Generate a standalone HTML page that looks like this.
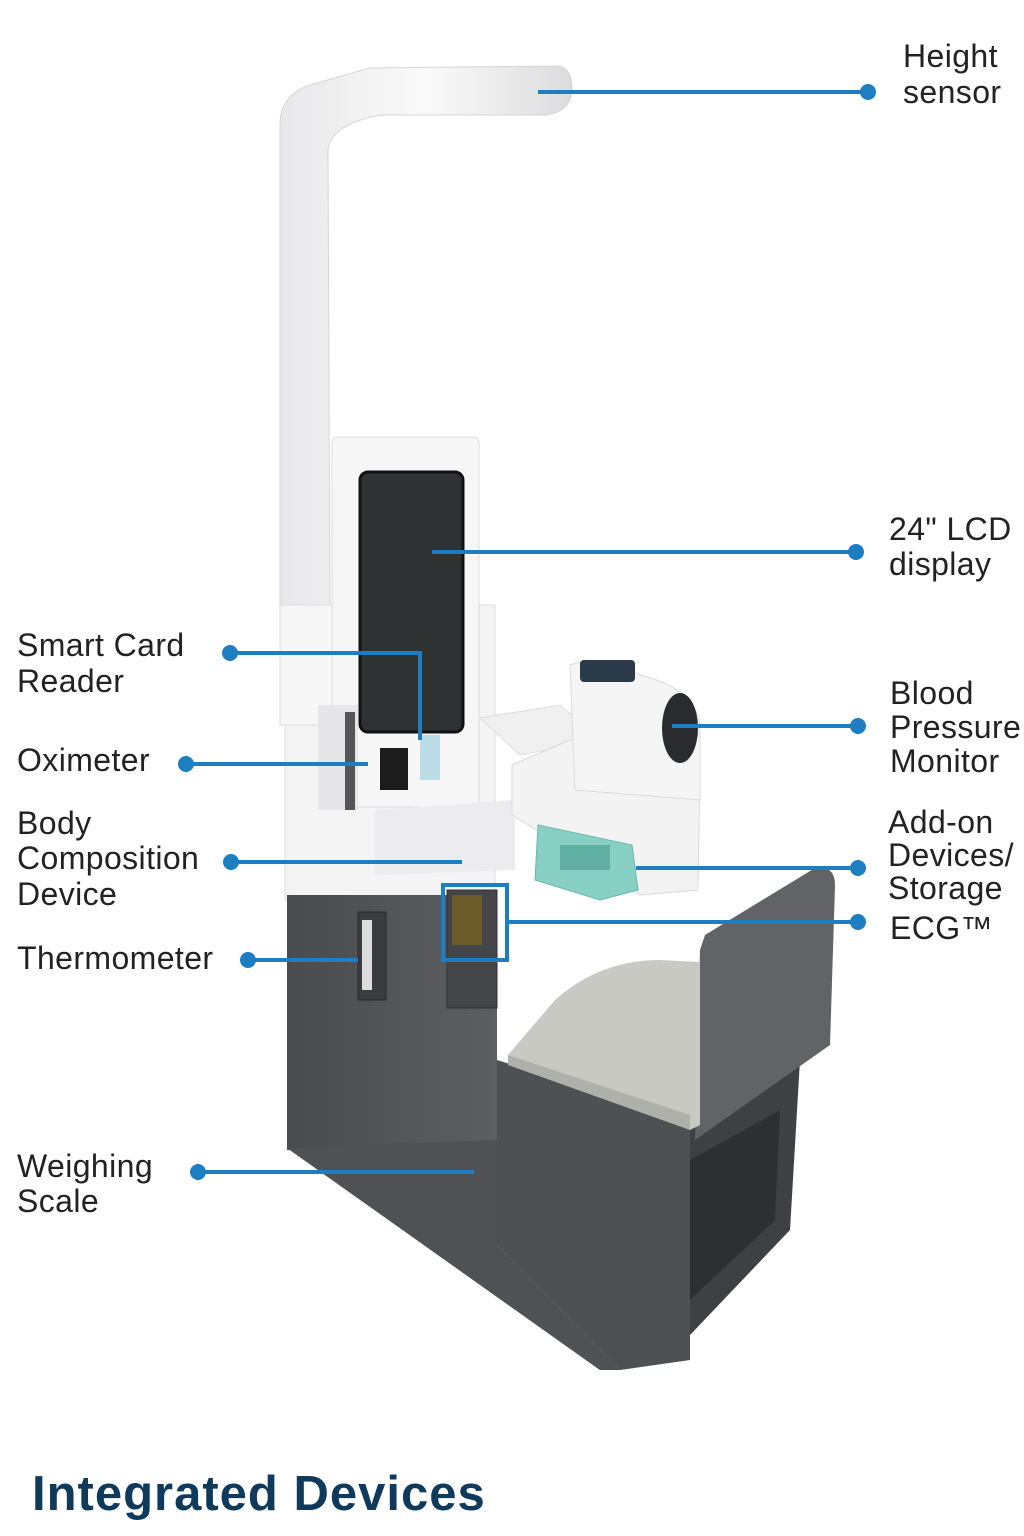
<!DOCTYPE html>
<html><head><meta charset="utf-8"><style>
html,body{margin:0;padding:0;background:#fff;}
svg{display:block;}
text{font-family:"Liberation Sans",sans-serif;fill:#222;}
</style></head><body>
<svg width="1024" height="1536" viewBox="0 0 1024 1536" xmlns="http://www.w3.org/2000/svg">
<defs>
<linearGradient id="pole" x1="0" x2="1"><stop offset="0" stop-color="#e8e8ea"/><stop offset="0.5" stop-color="#fafafa"/><stop offset="1" stop-color="#dcdcde"/></linearGradient>
<linearGradient id="dark" x1="0" x2="1"><stop offset="0" stop-color="#4a4b4f"/><stop offset="1" stop-color="#5d5e62"/></linearGradient>
</defs>
<path d="M280 620 L280 125 Q280 95 310 85 L370 68 L560 66 Q572 70 572 88 Q572 112 545 115 L380 115 Q330 125 328 150 L330 620 Z" fill="url(#pole)" stroke="#d6d6d8"/>
<rect x="285" y="605" width="210" height="295" fill="#f4f4f5" stroke="#dedee0"/>
<rect x="280" y="605" width="95" height="120" fill="#f7f7f8" stroke="#dcdcde"/>
<rect x="332" y="437" width="147" height="370" rx="6" fill="#f6f6f7" stroke="#dcdcde"/>
<rect x="360" y="472" width="103" height="260" rx="8" fill="#2e3233" stroke="#111" stroke-width="3"/>
<rect x="318" y="705" width="40" height="105" fill="#e6e6e8"/>
<rect x="345" y="712" width="10" height="98" fill="#555"/>
<rect x="380" y="748" width="28" height="42" fill="#1c1c1c"/>
<rect x="420" y="735" width="20" height="45" fill="#b9dce6"/>
<path d="M375 810 L515 800 L515 870 L375 875 Z" fill="#ececee"/>
<!-- lower kiosk and platform -->
<rect x="287" y="895" width="210" height="255" fill="url(#dark)"/>
<path d="M287 1148 L497 1140 L497 1245 L620 1370 L600 1370 Z" fill="#4a4b4f"/>
<path d="M287 1148 L600 1370 L620 1370 L497 1245 L497 1140 Z" fill="#505155"/>
<!-- seat base -->
<path d="M497 1060 L690 1120 L690 1360 L620 1370 L497 1245 Z" fill="#4f5054"/>
<path d="M690 1120 L800 1060 L790 1230 L690 1335 Z" fill="#3f4044"/>
<path d="M690 1160 L780 1110 L775 1220 L690 1300 Z" fill="#2e2f32"/>
<path d="M705 935 L815 868 Q835 865 835 885 L830 1045 L695 1140 L700 950 Z" fill="#626367"/>
<path d="M508 1055 L555 1000 Q600 960 660 960 L700 962 L700 1125 L690 1130 Z" fill="#c9c9c4"/>
<path d="M508 1055 L690 1115 L690 1130 L508 1065 Z" fill="#b0b0ab"/>
<rect x="358" y="912" width="28" height="88" fill="#3a3b3e" stroke="#2a2a2c"/>
<rect x="362" y="920" width="10" height="70" fill="#ddd"/>
<rect x="447" y="890" width="50" height="118" fill="#444548" stroke="#333"/>
<rect x="452" y="895" width="30" height="50" fill="#6b5a2a"/>
<path d="M480 718 L560 705 L600 740 L520 755 Z" fill="#f0f0f1" stroke="#ddd"/>
<path d="M512 765 L570 740 L700 760 L698 890 L640 895 L512 815 Z" fill="#f3f3f4" stroke="#dadadc"/>
<path d="M570 665 Q600 655 640 675 Q700 690 700 730 L700 800 L575 790 Z" fill="#f5f5f6" stroke="#dadadc"/>
<rect x="580" y="660" width="55" height="22" rx="4" fill="#2a3a48"/>
<ellipse cx="680" cy="728" rx="18" ry="35" fill="#2a2b2e"/>
<path d="M538 825 L632 845 L638 890 L600 900 L535 880 Z" fill="#88d0c4" stroke="#6ab8ac"/>
<rect x="560" y="845" width="50" height="25" fill="#5fb0a3"/>
<g stroke="#1d7fc2" stroke-width="4" fill="none">
<line x1="538" y1="92" x2="868" y2="92"/>
<line x1="432" y1="552" x2="856" y2="552"/>
<polyline points="230,653 420,653 420,740"/>
<line x1="186" y1="764" x2="368" y2="764"/>
<line x1="231" y1="862" x2="462" y2="862"/>
<line x1="248" y1="960" x2="358" y2="960"/>
<line x1="198" y1="1172" x2="474" y2="1172"/>
<line x1="672" y1="726" x2="856" y2="726"/>
<line x1="636" y1="868" x2="856" y2="868"/>
<line x1="508" y1="922" x2="856" y2="922"/>
<rect x="443" y="885" width="64" height="75"/>
</g>
<g fill="#1d7fc2">
<circle cx="868" cy="92" r="8"/><circle cx="856" cy="552" r="8"/><circle cx="230" cy="653" r="8"/>
<circle cx="186" cy="764" r="8"/><circle cx="231" cy="862" r="8"/><circle cx="248" cy="960" r="8"/>
<circle cx="198" cy="1172" r="8"/><circle cx="858" cy="726" r="8"/><circle cx="858" cy="868" r="8"/><circle cx="858" cy="922" r="8"/>
</g>
<g font-size="32" letter-spacing="0.4">
<text x="903" y="67">Height</text><text x="903" y="103">sensor</text>
<text x="889" y="540">24" LCD</text><text x="889" y="575">display</text>
<text x="890" y="704">Blood</text><text x="890" y="738">Pressure</text><text x="890" y="772">Monitor</text>
<text x="888" y="833">Add-on</text><text x="888" y="866">Devices/</text><text x="888" y="899">Storage</text>
<text x="890" y="939">ECG™</text>
<text x="17" y="656">Smart Card</text><text x="17" y="692">Reader</text>
<text x="17" y="771">Oximeter</text>
<text x="17" y="834">Body</text><text x="17" y="869">Composition</text><text x="17" y="905">Device</text>
<text x="17" y="969">Thermometer</text>
<text x="17" y="1177">Weighing</text><text x="17" y="1212">Scale</text>
</g>
<text x="32" y="1510" font-size="49" font-weight="bold" letter-spacing="1" style="fill:#0f3a5c">Integrated Devices</text>
</svg>
</body></html>
